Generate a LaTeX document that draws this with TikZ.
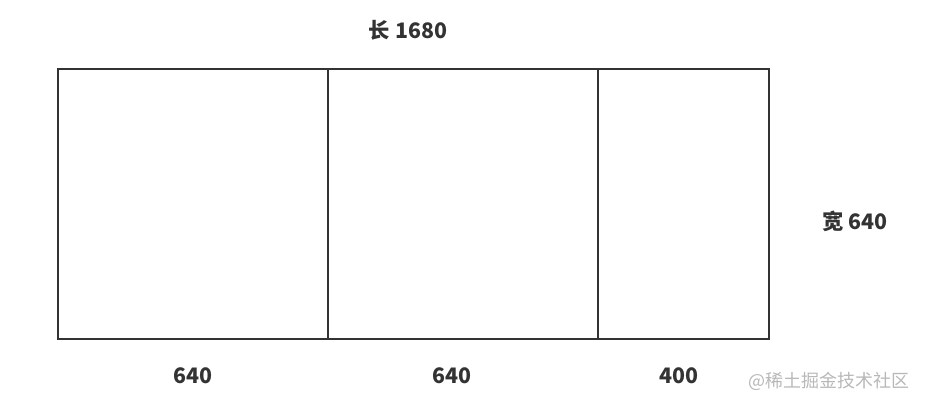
\documentclass[tikz,border=0pt]{standalone}
\usepackage{fontspec}
\setmainfont{Noto Sans CJK SC}
\usetikzlibrary{positioning}
\definecolor{ink}{HTML}{333333}
\definecolor{mark}{HTML}{B8B8B8}

\begin{document}
\begin{tikzpicture}[x=0.75pt,y=-0.75pt,
                    edge/.style={draw=ink,line width=1.7pt},
                    size/.style={text=ink,font=\bfseries\fontsize{16}{18}\selectfont,inner sep=0pt}]
	\useasboundingbox (0,0) rectangle (925,406);

	\coordinate (tl) at (58,69);
	\coordinate (br) at (769,339);
	\coordinate (m1t) at (328,69);
	\coordinate (m1b) at (328,339);
	\coordinate (m2t) at (598,69);
	\coordinate (m2b) at (598,339);

	\draw[edge] (tl) rectangle (br);
	\draw[edge] (m1t) -- (m1b);
	\draw[edge] (m2t) -- (m2b);

	\node[size] (len) at (408,30)   {长 1680};
	\node[size] (wid) at (855,221)  {宽 640};
	\node[size] (a)   at (193,376)  {640};
	\node[size] (b)   at (452,376)  {640};
	\node[size] (c)   at (679,376)  {400};
	\node[text=mark,font=\fontsize{13.5}{15}\selectfont,inner sep=0pt] (wm) at (829,381) {@稀土掘金技术社区};

\end{tikzpicture}
\end{document}
